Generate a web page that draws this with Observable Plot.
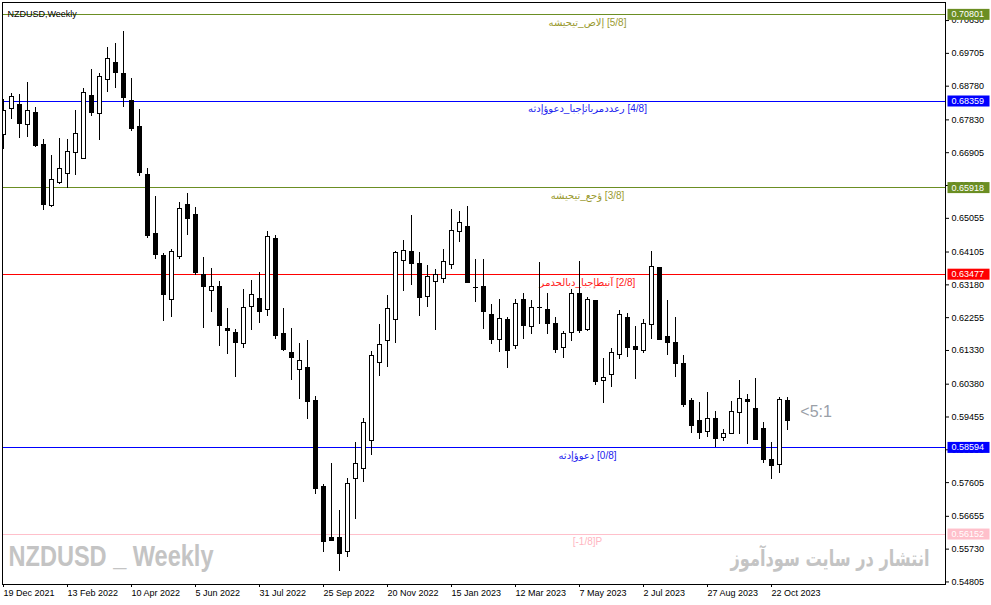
<!DOCTYPE html>
<html><head><meta charset="utf-8">
<script src="https://cdn.jsdelivr.net/npm/d3@7"></script>
<script src="https://cdn.jsdelivr.net/npm/@observablehq/plot@0.6"></script>
<style>
html,body{margin:0;padding:0;background:#fff;}
#chart{width:991px;height:605px;overflow:hidden;}
</style></head><body><div id="chart"></div>
<script>
// Weekly candles NZDUSD, week 0 = 19 Dec 2021
const opens = [0.67410,0.68143,0.68256,0.67692,0.68030,0.67136,0.65397,0.66045,0.66299,0.66902,
0.66733,0.68509,0.68002,0.68960,0.69440,0.69129,0.68368,0.67635,0.66282,0.64619,
0.64007,0.62758,0.63959,0.65417,0.65135,0.63463,0.63012,0.63125,0.61949,0.61828,
0.61507,0.62561,0.62767,0.62476,0.64486,0.61800,0.61245,0.60785,0.60842,0.59892,
0.57495,0.56030,0.56030,0.55655,0.57712,0.57994,0.58792,0.60983,0.61603,0.62195,
0.63858,0.64112,0.63773,0.62843,0.63266,0.63350,0.63745,0.64675,0.64816,0.63105,
0.63133,0.62344,0.61631,0.62175,0.61442,0.62758,0.61997,0.62522,0.62476,0.62090,
0.61405,0.61828,0.62936,0.61901,0.62730,0.60464,0.60644,0.61208,0.62251,0.61414,
0.61321,0.62034,0.63641,0.61715,0.61527,0.60935,0.59892,0.59328,0.59026,0.59404,
0.58868,0.58981,0.59573,0.59939,0.59686,0.59122,0.58248,0.58107,0.59911];
const highs = [0.68405,0.68574,0.68546,0.68884,0.68179,0.67277,0.66826,0.67306,0.67269,0.68095,
0.68707,0.69251,0.69138,0.69871,0.69984,0.70322,0.68997,0.68123,0.66451,0.65670,
0.64064,0.64168,0.65501,0.65755,0.65352,0.63942,0.63632,0.63266,0.62513,0.61921,
0.63049,0.63303,0.63528,0.64684,0.64571,0.62513,0.61949,0.61527,0.61603,0.60032,
0.57552,0.58144,0.56819,0.57721,0.58736,0.59404,0.61301,0.62062,0.62880,0.64120,
0.64430,0.65135,0.64092,0.63717,0.63604,0.64168,0.65296,0.65239,0.65389,0.63886,
0.63886,0.62626,0.62767,0.62268,0.62758,0.62944,0.62730,0.63810,0.62944,0.62260,
0.61873,0.63049,0.63838,0.62815,0.62740,0.61112,0.61386,0.62457,0.62372,0.62006,
0.62203,0.64120,0.63678,0.62739,0.62260,0.61188,0.59976,0.59863,0.60145,0.59610,
0.59111,0.59892,0.60484,0.60089,0.60548,0.59300,0.58727,0.60013,0.60004];
const lows = [0.66995,0.67841,0.67314,0.67342,0.67060,0.65284,0.65360,0.66009,0.65904,0.66262,
0.66720,0.67934,0.67258,0.68611,0.68723,0.68188,0.67511,0.66243,0.64495,0.63903,
0.62155,0.62268,0.63903,0.64580,0.63452,0.61958,0.62409,0.61450,0.61225,0.60576,
0.61394,0.61901,0.62099,0.62296,0.61648,0.61310,0.60492,0.59956,0.59393,0.57278,
0.55643,0.55953,0.55108,0.55502,0.56557,0.57608,0.58369,0.60605,0.60858,0.61535,
0.63001,0.63170,0.62296,0.62550,0.61901,0.63209,0.63604,0.64365,0.63209,0.62691,
0.61930,0.61507,0.61281,0.60830,0.61366,0.61639,0.61780,0.62062,0.61789,0.61245,
0.61095,0.61591,0.61808,0.61873,0.60334,0.59844,0.60295,0.61076,0.61132,0.60503,
0.61253,0.61639,0.61611,0.61188,0.60568,0.59731,0.58989,0.58820,0.58877,0.58586,
0.58772,0.58953,0.58970,0.58679,0.58792,0.58135,0.57693,0.57870,0.59082];
const closes = [0.68086,0.68481,0.67709,0.68086,0.67088,0.65425,0.66141,0.66451,0.66931,0.67438,
0.68594,0.68019,0.69045,0.69552,0.69146,0.68441,0.67568,0.66327,0.64551,0.64016,
0.62888,0.64092,0.65324,0.65031,0.63508,0.63114,0.63125,0.62014,0.61873,0.61535,
0.62533,0.62899,0.62409,0.64534,0.61732,0.61338,0.61112,0.61039,0.59883,0.57419,
0.55925,0.55973,0.55587,0.57572,0.58135,0.59291,0.61180,0.61490,0.62505,0.64083,
0.64140,0.63773,0.62804,0.63407,0.63452,0.63830,0.64704,0.64929,0.63226,0.63085,
0.62409,0.61620,0.62223,0.61310,0.62654,0.62014,0.62541,0.62541,0.62071,0.61357,
0.61800,0.62936,0.61873,0.62739,0.60436,0.60568,0.61264,0.62336,0.61394,0.61349,
0.62082,0.63689,0.61631,0.61527,0.60943,0.59807,0.59195,0.58998,0.59404,0.58840,
0.58981,0.59601,0.59968,0.59872,0.58820,0.58248,0.58068,0.59939,0.59336];

// x-axis tick labels (every 8 weeks)
const tickWeeks = [0,8,16,24,32,40,48,56,64,72,80,88,96];
const tickLabels = ["19 Dec 2021","13 Feb 2022","10 Apr 2022","5 Jun 2022","31 Jul 2022","25 Sep 2022",
  "20 Nov 2022","15 Jan 2023","12 Mar 2023","7 May 2023","2 Jul 2023","27 Aug 2023","22 Oct 2023"];
// y-axis price ticks
const yTicks = [0.70630,0.69705,0.68780,0.67830,0.66905,0.65980,0.65055,0.64105,0.63180,
  0.62255,0.61330,0.60380,0.59455,0.58530,0.57605,0.56655,0.55730,0.54805];

// Murrey math levels
const levels = [0.70801, 0.68359, 0.65918, 0.63477, 0.58594, 0.56152];
const levelLabels = [
  "إلاص_تيحيشه\u200E [5/8]",
  "رعددمرباثإجبا_دعوؤإدثه\u200E [4/8]",
  "ؤحع_تيحيشه\u200E [3/8]",
  "آنبطإجبا_دبالحدمر\u200E [2/8]",
  "دعوؤإدثه\u200E [0/8]",
  "[-1/8]P"
];
const lineColors = ["#6B8E23","#0000FF","#6B8E23","#FF0000","#0000FF","#FFC0CB"];
const badgeColors = ["#6B8E23","#0000FF","#6B8E23","#FF0000","#0000FF","#FFC0CB"];
const labelColors = ["#9A9A30","#2222EE","#9A9A30","#FF2020","#2222EE","#FFB6C1"];
const labelWeek = 73;          // bar at which level labels are anchored
const ratioLabel = "<5:1";
const ratioWeek = 99.6;
const ratioPrice = 0.5959;

const candles = opens.map((o, i) => ({i, open: o, high: highs[i], low: lows[i], close: closes[i], up: closes[i] >= o}));
const levelData = levels.map((v, i) => ({value: v, label: levelLabels[i], line: lineColors[i], badge: badgeColors[i], color: labelColors[i]}));

const chart = Plot.plot({
  width: 991, height: 605,
  marginLeft: 2, marginTop: 2, marginRight: 46, marginBottom: 21,
  x: {type: "linear", domain: [-0.125, 117.75], axis: null},
  y: {type: "linear", domain: [0.54733, 0.71139], axis: null},
  color: {type: "identity"},
  style: {fontFamily: "'Liberation Sans', Arial, 'DejaVu Sans', sans-serif", fontSize: "9px", background: "#fff", overflow: "visible", color: "#000"},
  marks: [
    Plot.ruleY(levelData, {y: "value", stroke: "line", strokeWidth: 1, shapeRendering: "crispEdges"}),
    Plot.text(levelData, {x: () => labelWeek, y: "value", text: "label", fill: "color", dy: 8, fontSize: 10, textAnchor: "middle"}),
    Plot.ruleX(candles, {x: "i", y1: "low", y2: "high", stroke: "#000", strokeWidth: 1, clip: true, shapeRendering: "crispEdges"}),
    Plot.rect(candles, {x1: d => d.i - 0.25, x2: d => d.i + 0.25, y1: "open", y2: "close",
      fill: d => d.up ? "#fff" : "#000", stroke: "#000", strokeWidth: 1, clip: true, shapeRendering: "crispEdges"}),
    Plot.axisY(yTicks, {anchor: "right", label: null, tickSize: 3, tickPadding: 3, tickFormat: d3.format(".5f"), fontSize: 9, stroke: "#000"}),
    Plot.axisX(tickWeeks, {anchor: "bottom", label: null, tickSize: 3, tickPadding: 2, tickFormat: d => tickLabels[tickWeeks.indexOf(d)], textAnchor: "start", fontSize: 9, stroke: "#000"}),
    Plot.frame({stroke: "#000", shapeRendering: "crispEdges"}),
    Plot.text(levelData, {y: "value", frameAnchor: "right", text: d => d3.format(".5f")(d.value), dx: 6, textAnchor: "start", fill: "#fff", fontSize: 9, ariaDescription: "badge"}),
    Plot.text(["NZDUSD,Weekly"], {frameAnchor: "top-left", dx: 5, dy: 8, fontSize: 9, textAnchor: "start", fill: "#000"}),
    Plot.text(["NZDUSD _ Weekly"], {frameAnchor: "bottom-left", dx: 6, dy: -19, fontSize: 30, fontWeight: "bold", fill: "#C4C4C4", textAnchor: "start", ariaDescription: "wm1"}),
    Plot.text(["انتشار در سایت سودآموز"], {frameAnchor: "bottom-right", dx: -16, dy: -19, fontSize: 22, fontWeight: "bold", fill: "#C4C4C4", textAnchor: "end", fontFamily: "'DejaVu Sans', sans-serif", ariaDescription: "wm2"}),
    Plot.text([ratioLabel], {x: () => ratioWeek, y: () => ratioPrice, fontSize: 16, fill: "#9AA0A8", textAnchor: "start"})
  ]
});
document.getElementById("chart").appendChild(chart);

const svg = d3.select(chart);
// badge backgrounds behind the level price labels
svg.selectAll('g[aria-description="badge"] text').each(function(_, i) {
  const t = d3.select(this);
  const bb = this.getBBox();
  const yc = bb.y + bb.height / 2;
  const r = d3.select(this.parentNode).insert("rect", () => this)
    .attr("x", bb.x - 4).attr("width", 42)
    .attr("y", yc - 5.5).attr("height", 11)
    .attr("fill", badgeColors[i]);
  if (t.attr("transform")) r.attr("transform", t.attr("transform"));
});
// compress the watermark texts to their widths
svg.selectAll('g[aria-description="wm1"] text').attr("textLength", 205).attr("lengthAdjust", "spacingAndGlyphs");
svg.selectAll('g[aria-description="wm2"] text').attr("textLength", 199).attr("lengthAdjust", "spacingAndGlyphs");
</script></body></html>
